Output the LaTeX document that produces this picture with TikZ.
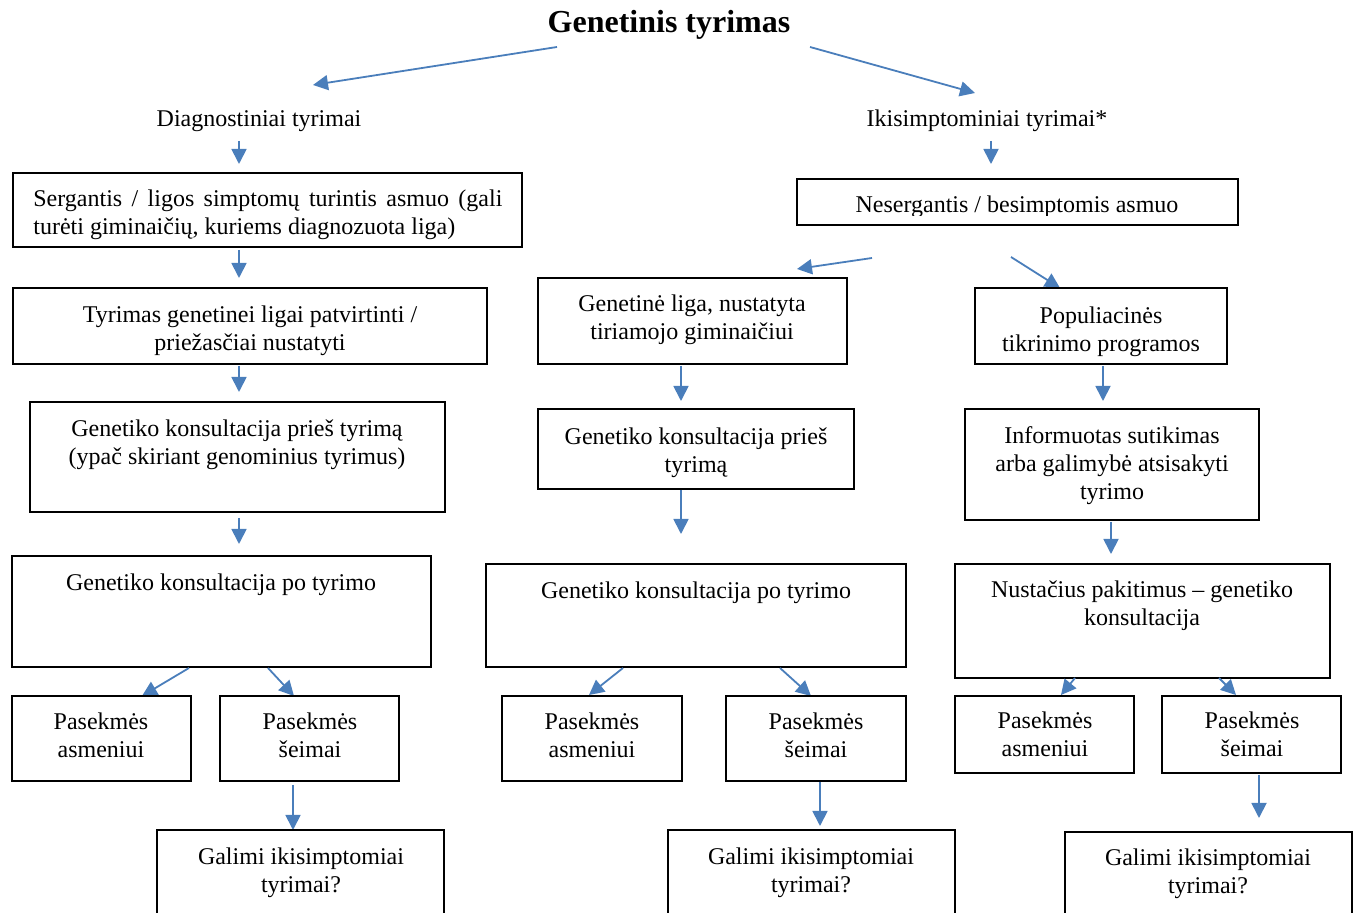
\documentclass[tikz,border=0pt]{standalone}
\usepackage{fontspec}
\setmainfont{Liberation Serif}
\usetikzlibrary{arrows.meta}
\definecolor{arrowblue}{RGB}{74,126,187}
\tikzset{
  box/.style={draw=black, line width=1pt, inner sep=0pt, outer sep=0pt, fill=none},
  txt/.style={font=\fontsize{12pt}{14pt}\selectfont, align=center, inner sep=0pt, anchor=base},
  arr/.style={draw=arrowblue, line width=0.9pt, -{Triangle[width=7.5pt,length=7.5pt]}},
}
% rectangle from its corners (x1,y1) and (x2,y2)
\newcommand\flowbox[5]{\node[box,minimum width={(#4-#2)*0.5pt},minimum height={(#5-#3)*0.5pt}] (#1) at ({(#2+#4)/2},{(#3+#5)/2}) {};}
% arrow between two named points
\newcommand\flowarrow[5]{\coordinate (#1-s) at (#2,#3); \coordinate (#1-e) at (#4,#5); \draw[arr] (#1-s) -- (#1-e);}
\begin{document}
\begin{tikzpicture}[x=0.5pt,y=-0.5pt]
\useasboundingbox (0,0) rectangle (1361,913);
\clip (0,0) rectangle (1361,913);

% heading and the two branches (multi-line labels are placed by their last baseline)
\node[txt,font=\fontsize{16pt}{18pt}\selectfont\bfseries] (title) at (669,33) {Genetinis tyrimas};
\node[txt] (diag) at (259,127) {Diagnostiniai tyrimai};
\node[txt] (ikis) at (987,127) {Ikisimptominiai tyrimai*};
\flowarrow{a-tl}{557}{47}{313}{85}
\flowarrow{a-tr}{810}{47}{975}{93}
\flowarrow{a-d}{239}{141}{239}{164}
\flowarrow{a-i}{991}{141}{991}{164}

% left column
\flowbox{b1}{13}{173}{522}{247}
\node[txt,text width=234.5pt,align=justify,anchor=base west] (t1) at (33,207) {Sergantis / ligos simptomų turintis asmuo (gali\linebreak turėti giminaičių, kuriems diagnozuota liga)};
\flowarrow{a-1}{239}{250}{239}{278}
\flowbox{b2}{13}{288}{487}{364}
\node[txt] (t2) at (250,351) {Tyrimas genetinei ligai patvirtinti /\\priežasčiai nustatyti};
\flowarrow{a-2}{239}{366}{239}{392}
\flowbox{b3}{30}{402}{445}{512}
\node[txt] (t3) at (237,465) {Genetiko konsultacija prieš tyrimą\\(ypač skiriant genominius tyrimus)};
\flowarrow{a-3}{239}{518}{239}{544}
\flowbox{b4}{12}{556}{431}{667}
\node[txt] (t4) at (221,591) {Genetiko konsultacija po tyrimo};
\flowarrow{a-4}{189}{668}{142}{696}
\flowarrow{a-5}{268}{668}{294}{696}
\flowbox{b5}{12}{696}{191}{781}
\node[txt] (t5) at (101,758) {Pasekmės\\asmeniui};
\flowbox{b6}{220}{696}{399}{781}
\node[txt] (t6) at (310,758) {Pasekmės\\šeimai};
\flowarrow{a-6}{293}{785}{293}{830}
\flowbox{b7}{157}{830}{444}{940}
\node[txt] (t7) at (301,893) {Galimi ikisimptomiai\\tyrimai?};

% right part: person without symptoms
\flowbox{n0}{797}{179}{1238}{225}
\begin{scope}
  \clip (797,179) rectangle (1238,216);
  \node[txt] (tn0) at (1017,213) {Nesergantis / besimptomis asmuo};
\end{scope}
\flowarrow{a-n1}{872}{258}{797}{269}
\flowarrow{a-n2}{1011}{257}{1060}{288}

% middle column
\flowbox{m1}{538}{278}{847}{364}
\node[txt] (tm1) at (692,340) {Genetinė liga, nustatyta\\tiriamojo giminaičiui};
\flowarrow{a-m1}{681}{366}{681}{401}
\flowbox{m2}{538}{409}{854}{489}
\node[txt] (tm2) at (696,473) {Genetiko konsultacija prieš\\tyrimą};
\flowarrow{a-m2}{681}{490}{681}{534}
\flowbox{m3}{486}{564}{906}{667}
\node[txt] (tm3) at (696,599) {Genetiko konsultacija po tyrimo};
\flowarrow{a-m3}{623}{668}{589}{695}
\flowarrow{a-m4}{780}{668}{811}{696}
\flowbox{m4}{502}{696}{682}{781}
\node[txt] (tm4) at (592,758) {Pasekmės\\asmeniui};
\flowbox{m5}{726}{696}{906}{781}
\node[txt] (tm5) at (816,758) {Pasekmės\\šeimai};
\flowarrow{a-m5}{820}{782}{820}{826}
\flowbox{m6}{668}{830}{955}{940}
\node[txt] (tm6) at (811,893) {Galimi ikisimptomiai\\tyrimai?};

% right column
\flowbox{r1}{975}{288}{1227}{364}
\node[txt] (tr1) at (1101,352) {Populiacinės\\tikrinimo programos};
\flowarrow{a-r1}{1103}{366}{1103}{401}
\flowbox{r2}{965}{409}{1259}{520}
\node[txt] (tr2) at (1112,500) {Informuotas sutikimas\\arba galimybė atsisakyti\\tyrimo};
\flowarrow{a-r2}{1111}{522}{1111}{554}
\flowbox{r3}{955}{564}{1330}{678}
\node[txt] (tr3) at (1142,626) {Nustačius pakitimus – genetiko\\konsultacija};
\flowarrow{a-r3}{1075}{678}{1061}{695}
\flowarrow{a-r4}{1219}{678}{1236}{695}
\flowbox{r4}{955}{696}{1134}{773}
\node[txt] (tr4) at (1045,757) {Pasekmės\\asmeniui};
\flowbox{r5}{1162}{696}{1341}{773}
\node[txt] (tr5) at (1252,757) {Pasekmės\\šeimai};
\flowarrow{a-r5}{1259}{775}{1259}{818}
\flowbox{r6}{1065}{832}{1352}{940}
\node[txt] (tr6) at (1208,894) {Galimi ikisimptomiai\\tyrimai?};
\end{tikzpicture}
\end{document}
